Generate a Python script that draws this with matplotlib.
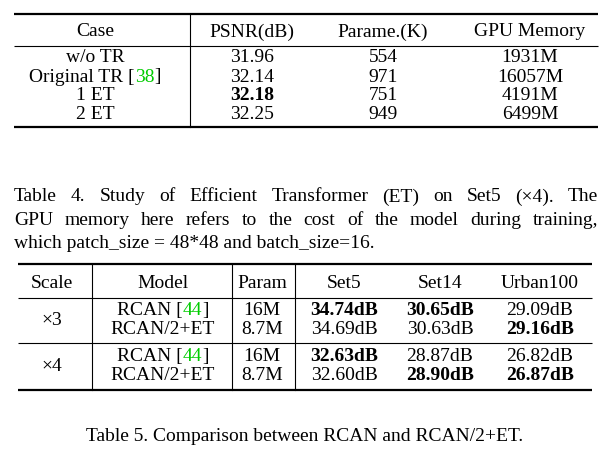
import matplotlib
matplotlib.use("Agg")
import matplotlib.pyplot as plt

plt.rcParams['font.family'] = ['Liberation Serif', 'DejaVu Serif']
plt.rcParams['mathtext.fontset'] = 'stix'

t4_header = ["Case", "PSNR(dB)", "Parame.(K)", "GPU Memory"]
t4_case = [[("w/o TR", 'k')], [("Original TR [", 'k'), ("38", '#00cc00'), ("]", 'k')],
           [("1 ET", 'k')], [("2 ET", 'k')]]
t4_psnr = ["31.96", "32.14", "32.18", "32.25"]
t4_param = ["554", "971", "751", "949"]
t4_gpu = ["1931M", "16057M", "4191M", "6499M"]
t4_bold_psnr = [False, False, True, False]

t5_header = ["Scale", "Model", "Param", "Set5", "Set14", "Urban100"]
t5_scale = ["×3", "×4"]
t5_model = [[("RCAN [", 'k'), ("44", '#00cc00'), ("]", 'k')], [("RCAN/2+ET", 'k')]] * 2
t5_param = ["16M", "8.7M", "16M", "8.7M"]
t5_set5 = ["34.74dB", "34.69dB", "32.63dB", "32.60dB"]
t5_set14 = ["30.65dB", "30.63dB", "28.87dB", "28.90dB"]
t5_urban = ["29.09dB", "29.16dB", "26.82dB", "26.87dB"]
t5_b5 = [True, False, True, False]
t5_b14 = [True, False, False, True]
t5_bu = [False, True, False, True]

fs = 14
fig = plt.figure(figsize=(6.1, 4.56), dpi=100)
ax = fig.add_axes([0, 0, 1, 1])
ax.set_xlim(0, 610); ax.set_ylim(456, 0); ax.axis('off')
fig.canvas.draw()
r = fig.canvas.get_renderer()

def txt(x, y, s, bold=False, ha='center', color='k'):
    return ax.text(x, y, s, ha=ha, va='center', fontsize=fs, color=color,
                   fontweight='bold' if bold else 'normal')

def segs(xc, y, parts):
    ts = [ax.text(0, y, s, va='center', fontsize=fs, color=c) for s, c in parts]
    ws = [t.get_window_extent(r).width for t in ts]
    x = xc - sum(ws) / 2
    for t, w in zip(ts, ws):
        t.set_x(x); x += w

def justify(x0, x1, y, s):
    words = s.split()
    ts = [ax.text(0, y, w, va='center', fontsize=fs) for w in words]
    ws = [t.get_window_extent(r).width for t in ts]
    gap = (x1 - x0 - sum(ws)) / (len(words) - 1)
    x = x0
    for t, w in zip(ts, ws):
        t.set_x(x); x += w + gap

def hl(y, x0, x1, lw):
    ax.plot([x0, x1], [y, y], color='k', lw=lw, solid_capstyle='butt')

def vl(x, y0, y1):
    ax.plot([x, x], [y0, y1], color='k', lw=0.8)

# Table 4
X0, X1 = 14, 598
hl(15, X0, X1, 1.6); hl(47, X0, X1, 0.8); hl(128, X0, X1, 1.6)
vl(190, 15, 128)
cols = [95, 252, 383, 530]
for c, h in zip(cols, t4_header):
    txt(c, 32, h)
ys = [58, 77, 96, 115]
for i, y in enumerate(ys):
    segs(cols[0], y, t4_case[i])
    txt(cols[1], y, t4_psnr[i], bold=t4_bold_psnr[i])
    txt(cols[2], y, t4_param[i])
    txt(cols[3], y, t4_gpu[i])

cap = ["Table 4. Study of Efficient Transformer (ET) on Set5 (×4). The",
       "GPU memory here refers to the cost of the model during training,",
       "which patch_size = 48*48 and batch_size=16."]
justify(14, 598, 197, cap[0])
justify(14, 598, 220.5, cap[1])
txt(14, 244, cap[2], ha='left')

# Table 5
X0, X1 = 18, 592
hl(265, X0, X1, 1.6); hl(299, X0, X1, 0.8); hl(344, X0, X1, 0.8); hl(391, X0, X1, 1.6)
for x in [92, 232, 295]:
    vl(x, 265, 391)
cols5 = [52, 163, 262, 344, 440, 540]
for c, h in zip(cols5, t5_header):
    txt(c, 284, h)
ys5 = [311, 330, 357, 376]
txt(cols5[0], 321, t5_scale[0]); txt(cols5[0], 367, t5_scale[1])
for i, y in enumerate(ys5):
    segs(cols5[1], y, t5_model[i])
    txt(cols5[2], y, t5_param[i])
    txt(cols5[3], y, t5_set5[i], bold=t5_b5[i])
    txt(cols5[4], y, t5_set14[i], bold=t5_b14[i])
    txt(cols5[5], y, t5_urban[i], bold=t5_bu[i])

txt(305, 437, "Table 5. Comparison between RCAN and RCAN/2+ET.")
fig.savefig("out.png", dpi=100)
